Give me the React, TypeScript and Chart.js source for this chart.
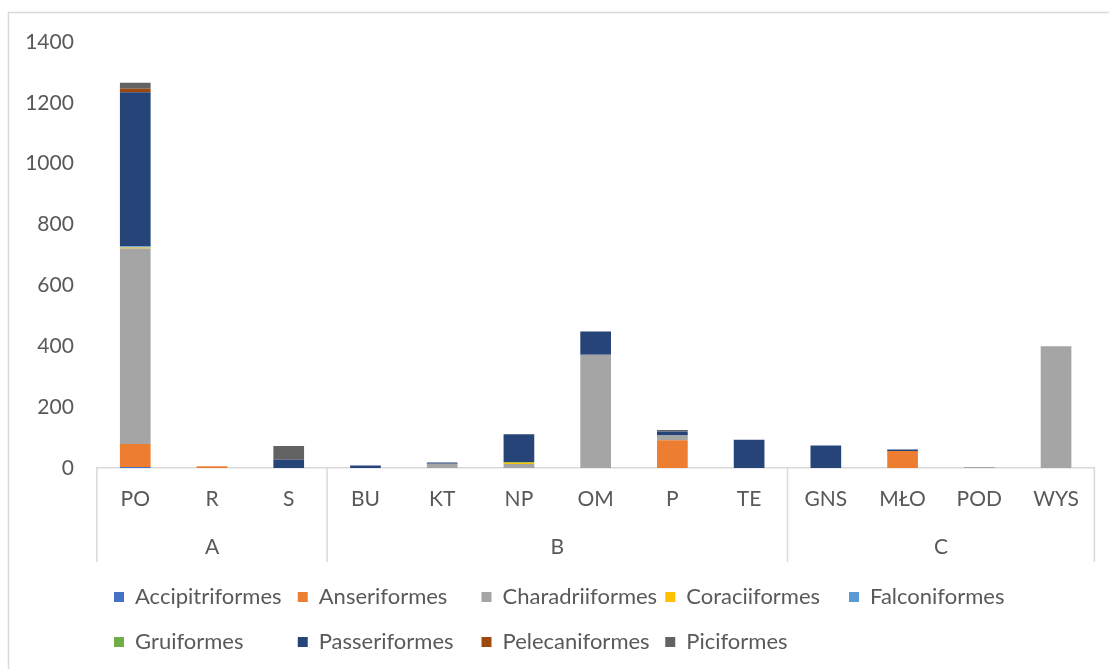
import React, { useEffect, useRef } from 'react';
import { Chart, registerables } from 'chart.js';

Chart.register(...registerables);

// ---- Data ----
const categories = ['PO', 'R', 'S', 'BU', 'KT', 'NP', 'OM', 'P', 'TE', 'GNS', 'MŁO', 'POD', 'WYS'];
const groupLabels = ['A', 'B', 'C'];
const groupSizes = [3, 6, 4];

const seriesNames = [
  'Accipitriformes', 'Anseriformes', 'Charadriiformes', 'Coraciiformes', 'Falconiformes',
  'Gruiformes', 'Passeriformes', 'Pelecaniformes', 'Piciformes',
];
const seriesColors = ['#4472C4', '#ED7D31', '#A5A5A5', '#FFC000', '#5B9BD5', '#70AD47', '#264478', '#9E480E', '#636363'];

const accipitriformes = [3, 0, 0, 0, 0, 0, 0, 0, 0, 0, 0, 0, 0];
const anseriformes = [76, 6, 0, 0, 0, 0, 0, 91, 0, 0, 56, 0, 0];
const charadriiformes = [642, 0, 0, 0, 14, 13, 372, 16, 0, 0, 0, 3, 400];
const coraciiformes = [4, 0, 0, 0, 0, 4, 0, 0, 0, 0, 0, 0, 0];
const falconiformes = [4, 0, 0, 0, 0, 0, 0, 0, 0, 0, 0, 0, 0];
const gruiformes = [0, 0, 0, 0, 0, 3, 0, 0, 0, 0, 0, 0, 0];
const passeriformes = [506, 0, 27, 8, 4, 91, 77, 13, 93, 74, 5, 0, 0];
const pelecaniformes = [11, 0, 0, 0, 0, 0, 0, 0, 0, 0, 0, 0, 0];
const piciformes = [20, 0, 45, 0, 0, 0, 0, 5, 0, 0, 0, 0, 0];

const seriesValues = [
  accipitriformes, anseriformes, charadriiformes, coraciiformes, falconiformes,
  gruiformes, passeriformes, pelecaniformes, piciformes,
];

const yMax = 1400;
const yStep = 200;

// ---- Styles ----
const FONT = 'Lato, "Liberation Sans", sans-serif';
const TEXT_COLOR = '#595959';
const LINE_COLOR = '#D9D9D9';

const frameBorderPlugin = {
  id: 'frameBorder',
  beforeDraw(chart: any) {
    const ctx = chart.ctx;
    ctx.save();
    ctx.fillStyle = '#FFFFFF';
    ctx.fillRect(0, 0, chart.width, chart.height);
    ctx.strokeStyle = LINE_COLOR;
    ctx.lineWidth = 1.5;
    ctx.beginPath();
    ctx.moveTo(8.5, chart.height + 2);
    ctx.lineTo(8.5, 12.5);
    ctx.lineTo(chart.width + 2, 12.5);
    ctx.stroke();
    ctx.restore();
  },
};

const multiLevelAxisPlugin = {
  id: 'multiLevelAxis',
  afterDraw(chart: any) {
    const ctx = chart.ctx;
    const x = chart.scales.x;
    const bottom = chart.chartArea.bottom;
    const half = (x.getPixelForValue(1) - x.getPixelForValue(0)) / 2;
    const bounds: number[] = [x.getPixelForValue(0) - half];
    ctx.save();
    ctx.fillStyle = TEXT_COLOR;
    ctx.font = `21px ${FONT}`;
    ctx.textAlign = 'center';
    ctx.textBaseline = 'middle';
    let idx = 0;
    groupLabels.forEach((label, gi) => {
      const start = x.getPixelForValue(idx) - half;
      idx += groupSizes[gi];
      const end = x.getPixelForValue(idx - 1) + half;
      bounds.push(end);
      ctx.fillText(label, (start + end) / 2, bottom + 79);
    });
    ctx.strokeStyle = LINE_COLOR;
    ctx.lineWidth = 1.5;
    bounds.forEach((bx) => {
      ctx.beginPath();
      ctx.moveTo(bx, bottom);
      ctx.lineTo(bx, bottom + 94);
      ctx.stroke();
    });
    ctx.restore();
  },
};

const gridLegendPlugin = {
  id: 'gridLegend',
  afterDraw(chart: any) {
    const ctx = chart.ctx;
    ctx.save();
    ctx.font = `22px ${FONT}`;
    ctx.textAlign = 'left';
    ctx.textBaseline = 'middle';
    chart.data.datasets.forEach((ds: any, i: number) => {
      const col = i % 5;
      const row = Math.floor(i / 5);
      const tx = 135 + col * 183.75;
      const ty = 597 + row * 45;
      ctx.fillStyle = ds.backgroundColor;
      ctx.fillRect(tx - 21, ty - 5, 10, 10);
      ctx.fillStyle = TEXT_COLOR;
      ctx.fillText(ds.label, tx, ty);
    });
    ctx.restore();
  },
};

export default function App() {
  const canvasRef = useRef<HTMLCanvasElement>(null);

  useEffect(() => {
    document.body.style.margin = '0';
    const canvas = canvasRef.current;
    if (!canvas) return;
    const chart = new Chart(canvas, {
      type: 'bar',
      data: {
        labels: categories,
        datasets: seriesNames.map((name, i) => ({
          label: name,
          data: seriesValues[i],
          backgroundColor: seriesColors[i],
          borderWidth: 0,
          barPercentage: 0.4,
          categoryPercentage: 1,
        })),
      },
      options: {
        responsive: false,
        animation: false,
        devicePixelRatio: 1,
        layout: { padding: { left: 0, right: 14.6, top: 42, bottom: 0 } },
        plugins: {
          legend: { display: false },
          tooltip: { enabled: false },
          title: { display: false },
        },
        scales: {
          x: {
            stacked: true,
            grid: { display: false, drawTicks: false },
            border: { display: true, color: LINE_COLOR, width: 1.5 },
            ticks: {
              color: TEXT_COLOR,
              font: { family: FONT, size: 21 },
              padding: 19,
              maxRotation: 0,
              autoSkip: false,
            },
            afterFit: (scale: any) => {
              scale.height = 201;
            },
          },
          y: {
            stacked: true,
            min: 0,
            max: yMax,
            grid: { display: false, drawTicks: false },
            border: { display: false },
            ticks: {
              stepSize: yStep,
              color: TEXT_COLOR,
              font: { family: FONT, size: 21 },
              padding: 23,
              callback: (value: any) => String(value),
            },
            afterFit: (scale: any) => {
              scale.width = 96.9;
            },
          },
        },
      },
      plugins: [frameBorderPlugin, multiLevelAxisPlugin, gridLegendPlugin],
    });
    return () => chart.destroy();
  }, []);

  return (
    <div style={{ position: 'relative', width: 1109, height: 669 }}>
      <canvas ref={canvasRef} width={1109} height={669} />
    </div>
  );
}
